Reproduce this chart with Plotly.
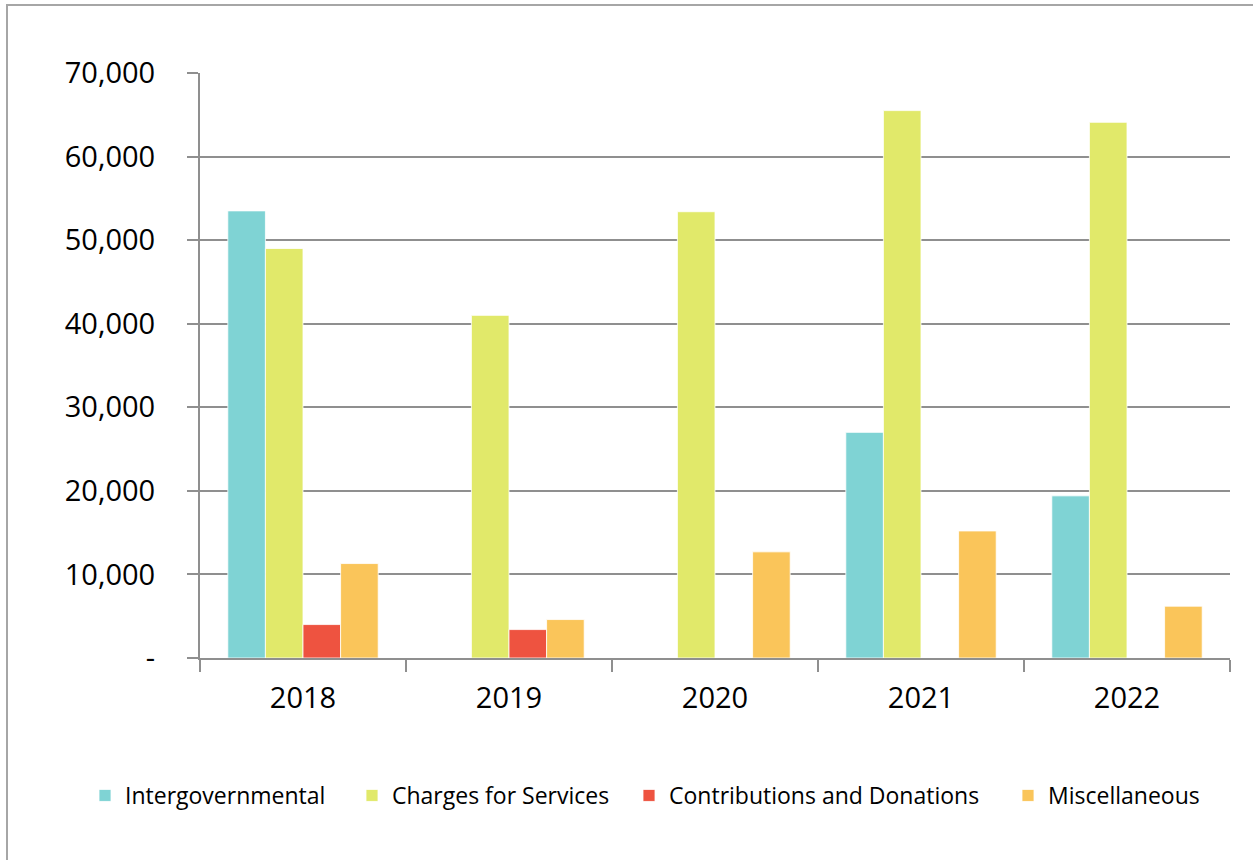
import plotly.graph_objects as go

# Revenue by source, 2018-2022
years = ["2018", "2019", "2020", "2021", "2022"]
intergovernmental = [53500, None, None, 27000, 19400]
charges_for_services = [49000, 41000, 53400, 65500, 64100]
contributions_donations = [4000, 3400, None, None, None]
miscellaneous = [11300, 4600, 12700, 15200, 6200]

series_names = ["Intergovernmental", "Charges for Services",
                "Contributions and Donations", "Miscellaneous"]
series_values = [intergovernmental, charges_for_services,
                 contributions_donations, miscellaneous]
series_colors = ["#7FD3D4", "#E1E96A", "#EE5340", "#FAC55A"]

y_tick_values = [0, 10000, 20000, 30000, 40000, 50000, 60000, 70000]
y_tick_labels = ["-", "10,000", "20,000", "30,000", "40,000",
                 "50,000", "60,000", "70,000"]

FONT = "Open Sans, Lato, sans-serif"
GRID = "#8F8F8F"

W, H = 1253, 860
L, R, T, B = 200, 23, 73, 202
pw, ph = W - L - R, H - T - B

# left edge (px) of each legend entry's colour square
legend_square_left = [99, 366, 643, 1022]
legend_ids = ["legend", "legend2", "legend3", "legend4"]

fig = go.Figure()
for name, vals, color, lid in zip(series_names, series_values,
                                  series_colors, legend_ids):
    fig.add_trace(go.Bar(
        x=years, y=vals, name=name, legend=lid,
        marker=dict(color=color, line=dict(color="white", width=0.8)),
    ))


def px_to_paper_x(px):
    return (px - L) / pw


def px_to_paper_y(py):
    return (H - B - py) / ph


legend_layout = {}
for lid, sq in zip(legend_ids, legend_square_left):
    legend_layout[lid] = dict(
        orientation="h", xref="container", x=(sq - 14) / W, xanchor="left",
        yref="container", y=0.075, yanchor="middle",
        font=dict(family=FONT, size=23, color="#000000"),
        itemwidth=30, bgcolor="rgba(0,0,0,0)", borderwidth=0,
    )

fig.update_layout(
    width=W, height=H,
    margin=dict(l=L, r=R, t=T, b=B, pad=0),
    paper_bgcolor="white", plot_bgcolor="white",
    barmode="group", bargap=0.27, bargroupgap=0,
    font=dict(family=FONT, color="#000000"),
    showlegend=True,
    xaxis=dict(
        type="category", showgrid=False,
        showline=True, linecolor=GRID, linewidth=2,
        ticks="outside", tickson="boundaries", ticklen=12,
        tickcolor=GRID, tickwidth=2,
        tickfont=dict(family=FONT, size=29, color="#000000"),
        ticklabelstandoff=13,
    ),
    yaxis=dict(
        range=[0, 70000], tickvals=y_tick_values, ticktext=y_tick_labels,
        showgrid=True, gridcolor=GRID, gridwidth=2,
        showline=True, linecolor=GRID, linewidth=2,
        zeroline=False,
        ticks="outside", ticklen=11, tickcolor=GRID, tickwidth=2,
        tickfont=dict(family=FONT, size=29, color="#000000"),
        ticklabelstandoff=26,
    ),
    shapes=[dict(
        type="rect", xref="paper", yref="paper",
        x0=px_to_paper_x(7), x1=px_to_paper_x(1262),
        y0=px_to_paper_y(870), y1=px_to_paper_y(5),
        line=dict(color="#A6A6A6", width=2), fillcolor="rgba(0,0,0,0)",
        layer="below",
    )],
    **legend_layout,
)

fig.write_html("out.html")
